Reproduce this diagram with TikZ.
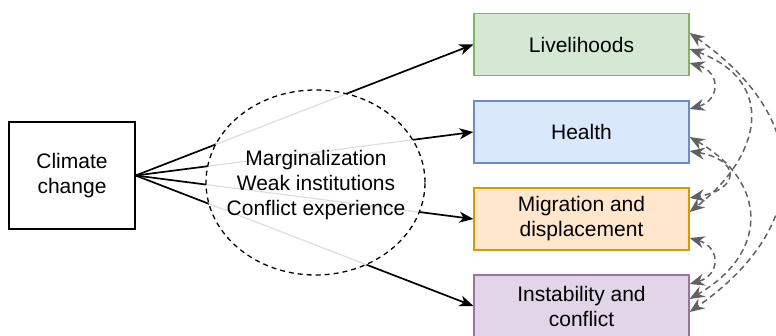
\documentclass[tikz,border=0pt]{standalone}
\usepackage{fontspec}
\setmainfont{Liberation Sans}
\usetikzlibrary{arrows.meta,shapes.geometric,backgrounds}
\definecolor{livfill}{HTML}{D5E8D4}
\definecolor{livline}{HTML}{82B366}
\definecolor{heafill}{HTML}{DAE8FC}
\definecolor{healine}{HTML}{6C8EBF}
\definecolor{migfill}{HTML}{FFE6CC}
\definecolor{migline}{HTML}{D79B00}
\definecolor{insfill}{HTML}{E1D5E7}
\definecolor{insline}{HTML}{9673A6}
\tikzset{
  box/.style={draw, line width=1.2pt, minimum width=215pt, minimum height=62pt, align=center, inner sep=0pt},
  cause/.style={line width=1.7pt, -{Stealth[length=14pt,width=11pt,inset=4pt]}},
  link/.style={draw=black!62, line width=1.5pt, dash pattern=on 6pt off 4pt,
    {Stealth[length=15pt,width=12pt,inset=5pt]}-{Stealth[length=15pt,width=12pt,inset=5pt]}},
}
\begin{document}
\begin{tikzpicture}[x=1pt,y=1pt,font=\fontsize{21}{25}\selectfont]
\useasboundingbox (0,0) rectangle (776,-336);
\node[box, minimum width=126pt, minimum height=107pt] (cc) at (72,-175.5) {Climate\\change};
\node[box, fill=livfill, draw=livline] (liv) at (581.5,-44.5)  {Livelihoods};
\node[box, fill=heafill, draw=healine] (hea) at (581.5,-132)   {Health};
\node[box, fill=migfill, draw=migline] (mig) at (581.5,-219)   {Migration and\\displacement};
\node[box, fill=insfill, draw=insline] (ins) at (581.5,-306)   {Instability and\\conflict};
\node[ellipse, draw, line width=1.3pt, dash pattern=on 5pt off 4pt, minimum width=219pt,
  minimum height=185pt, inner sep=0pt] (ctx) at (315.5,-182.5) {};
\node[align=center, inner sep=0pt] (ctxtext) at (316,-185.5)
  {Marginalization\\Weak institutions\\Conflict experience};
\begin{scope}[on background layer]
\foreach \b in {liv,hea,mig,ins} \draw[cause] (cc.east) -- (\b.west);
\fill[white] (ctx.center) ellipse (109.5 and 92.5);
\clip (ctx.center) ellipse (109.5 and 92.5);
\foreach \b in {liv,hea,mig,ins} \draw[line width=1.2pt, black!13] (cc.east) -- (\b.west);
\end{scope}
\draw[link] ([yshift=-18.5pt]liv.east) .. controls +(31,-9) and +(31,9) .. ([yshift=23pt]hea.east);
\draw[link] ([yshift=-19pt]hea.east) .. controls +(51,-9) and +(51,9) .. ([yshift=21pt]mig.east);
\draw[link] ([yshift=-19pt]mig.east) .. controls +(31,-9) and +(31,9) .. ([yshift=22pt]ins.east);
\draw[link] ([yshift=-4.5pt]liv.east) .. controls +(87,-32) and +(73,57) .. ([yshift=7pt]mig.east);
\draw[link] ([yshift=-5pt]hea.east) .. controls +(79,-45.5) and +(79,45.5) .. ([yshift=7pt]ins.east);
\draw[link] ([yshift=11.5pt]liv.east) .. controls +(123,-86) and +(123,86) .. ([yshift=-6pt]ins.east);
\end{tikzpicture}
\end{document}
